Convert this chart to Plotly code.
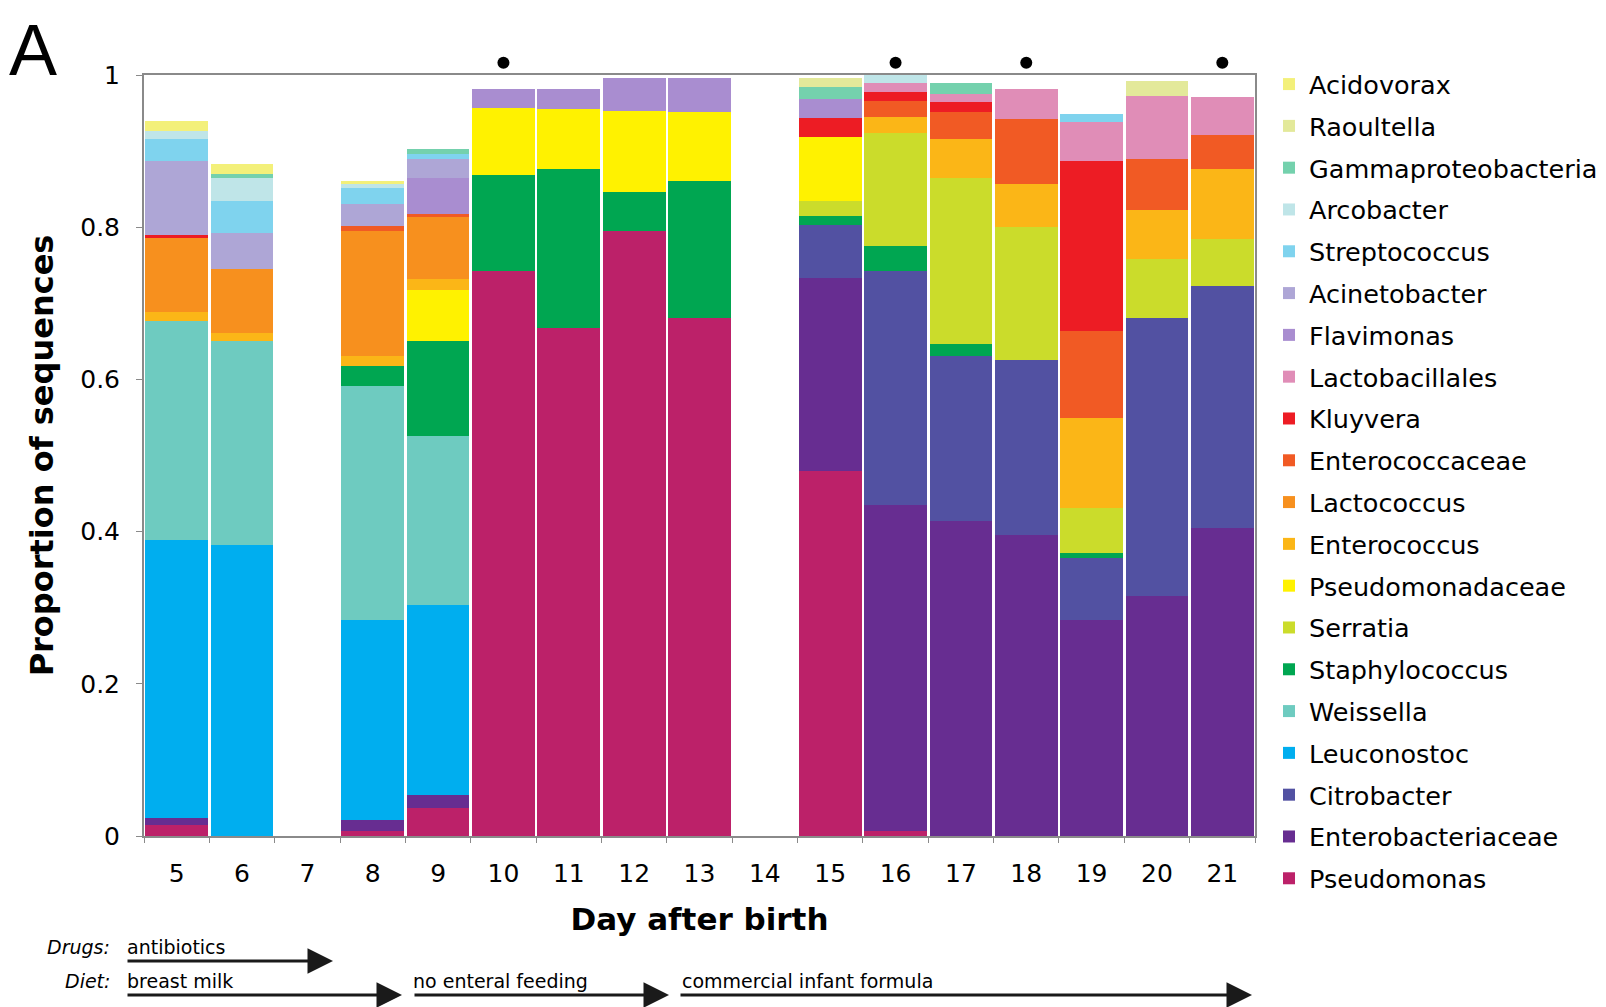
import plotly.graph_objects as go

# ---------------- data ----------------
days = ["5", "6", "7", "8", "9", "10", "11", "12", "13", "14", "15", "16", "17", "18", "19", "20", "21"]

# stacked from bottom to top
pseudomonas         = [0.015, 0, 0, 0.006, 0.037, 0.743, 0.668, 0.795, 0.681, 0, 0.479, 0.006, 0, 0, 0, 0, 0]
enterobacteriaceae  = [0.009, 0, 0, 0.015, 0.017, 0, 0, 0, 0, 0, 0.254, 0.429, 0.414, 0.396, 0.284, 0.315, 0.405]
citrobacter         = [0, 0, 0, 0, 0, 0, 0, 0, 0, 0, 0.070, 0.307, 0.217, 0.230, 0.081, 0.366, 0.318]
leuconostoc         = [0.365, 0.383, 0, 0.263, 0.250, 0, 0, 0, 0, 0, 0, 0, 0, 0, 0, 0, 0]
weissella           = [0.288, 0.267, 0, 0.307, 0.221, 0, 0, 0, 0, 0, 0, 0, 0, 0, 0, 0, 0]
staphylococcus      = [0, 0, 0, 0.027, 0.125, 0.125, 0.209, 0.051, 0.180, 0, 0.012, 0.033, 0.015, 0, 0.007, 0, 0]
serratia            = [0, 0, 0, 0, 0, 0, 0, 0, 0, 0, 0.019, 0.149, 0.219, 0.174, 0.059, 0.077, 0.061]
pseudomonadaceae    = [0, 0, 0, 0, 0.068, 0.089, 0.078, 0.107, 0.091, 0, 0.084, 0, 0, 0, 0, 0, 0]
enterococcus        = [0.011, 0.011, 0, 0.013, 0.014, 0, 0, 0, 0, 0, 0, 0.021, 0.051, 0.057, 0.118, 0.065, 0.093]
lactococcus         = [0.098, 0.084, 0, 0.164, 0.082, 0, 0, 0, 0, 0, 0, 0, 0, 0, 0, 0, 0]
enterococcaceae     = [0, 0, 0, 0.007, 0.003, 0, 0, 0, 0, 0, 0, 0.021, 0.035, 0.085, 0.114, 0.066, 0.044]
kluyvera            = [0.004, 0, 0, 0, 0, 0, 0, 0, 0, 0, 0.025, 0.012, 0.013, 0, 0.224, 0, 0]
lactobacillales     = [0, 0, 0, 0, 0, 0, 0, 0, 0, 0, 0, 0.012, 0.011, 0.040, 0.051, 0.083, 0.050]
flavimonas          = [0, 0, 0, 0, 0.048, 0.024, 0.027, 0.043, 0.044, 0, 0.025, 0, 0, 0, 0, 0, 0]
acinetobacter       = [0.097, 0.048, 0, 0.028, 0.024, 0, 0, 0, 0, 0, 0, 0, 0, 0, 0, 0, 0]
streptococcus       = [0.029, 0.042, 0, 0.022, 0.007, 0, 0, 0, 0, 0, 0, 0, 0, 0, 0.011, 0, 0]
arcobacter          = [0.011, 0.030, 0, 0.005, 0, 0, 0, 0, 0, 0, 0, 0.010, 0, 0, 0, 0, 0]
gammaproteobacteria = [0, 0.005, 0, 0, 0.007, 0, 0, 0, 0, 0, 0.016, 0, 0.015, 0, 0, 0, 0]
raoultella          = [0, 0, 0, 0, 0, 0, 0, 0, 0, 0, 0.012, 0, 0, 0, 0, 0.020, 0]
acidovorax          = [0.013, 0.013, 0, 0.004, 0, 0, 0, 0, 0, 0, 0, 0, 0, 0, 0, 0, 0]

dot_days = ["10", "16", "18", "21"]

y_ticks = [0, 0.2, 0.4, 0.6, 0.8, 1]
y_ticktext = ["0", "0.2", "0.4", "0.6", "0.8", "1"]

# ---------------- styles ----------------
series = [
    ("Pseudomonas", pseudomonas, "#bc2169"),
    ("Enterobacteriaceae", enterobacteriaceae, "#672d91"),
    ("Citrobacter", citrobacter, "#5251a2"),
    ("Leuconostoc", leuconostoc, "#00aeef"),
    ("Weissella", weissella, "#6ecbc0"),
    ("Staphylococcus", staphylococcus, "#00a651"),
    ("Serratia", serratia, "#cbdc2b"),
    ("Pseudomonadaceae", pseudomonadaceae, "#fff200"),
    ("Enterococcus", enterococcus, "#fbb617"),
    ("Lactococcus", lactococcus, "#f7901e"),
    ("Enterococcaceae", enterococcaceae, "#f15a24"),
    ("Kluyvera", kluyvera, "#ed1c24"),
    ("Lactobacillales", lactobacillales, "#e08db7"),
    ("Flavimonas", flavimonas, "#a98dd0"),
    ("Acinetobacter", acinetobacter, "#aea6d6"),
    ("Streptococcus", streptococcus, "#7fd3ee"),
    ("Arcobacter", arcobacter, "#bfe5e8"),
    ("Gammaproteobacteria", gammaproteobacteria, "#74d1ad"),
    ("Raoultella", raoultella, "#e3e99a"),
    ("Acidovorax", acidovorax, "#f3f07a"),
]

W, H = 1606, 1007
OFF = 8                       # page body margin of the html page
# desired plot frame in page pixels
PAGE_L, PAGE_R, PAGE_T, PAGE_B = 144, 1255, 75, 836
L = PAGE_L - OFF
R = W - (PAGE_R - OFF)
B = H - (PAGE_B - OFF)
T = 40                        # extra room on top for the dots (second y axis)
PW = W - L - R
PH = H - T - B
MAIN_H = PAGE_B - PAGE_T
MAIN_TOP = MAIN_H / PH        # domain top of main y axis
Y2_TOP = PH / MAIN_H          # range top of dot axis in data units
FONT = "DejaVu Sans, Arial, sans-serif"
DOT_LEVEL = 1.016
LEG_FONT = 25.5
LEG_STEP = 41.8


def px(page_x):
    return (page_x - OFF - L) / PW


def py(page_y):
    return ((H - B) - (page_y - OFF)) / PH


fig = go.Figure()
n = len(series)
for i, (name, vals, col) in enumerate(series):
    fig.add_trace(go.Bar(
        x=days, y=vals, name=name, legendgroup=name, legendrank=n - i,
        marker=dict(color=col, line=dict(width=0)),
    ))

fig.add_trace(go.Scatter(
    x=dot_days, y=[DOT_LEVEL] * len(dot_days), mode="markers", yaxis="y2",
    marker=dict(color="black", size=12), showlegend=False, hoverinfo="skip",
))

small = dict(family=FONT, size=19, color="black")
annotations = [
    dict(text="A", x=px(33), y=(H - B) / PH, xref="paper", yref="paper", showarrow=False,
         font=dict(family="Liberation Sans, Arial", size=72, color="black"), xanchor="center", yanchor="top"),
    dict(text="<i>Drugs:</i>", x=px(112), y=py(947), xref="paper", yref="paper", showarrow=False,
         font=small, xanchor="right", yanchor="middle"),
    dict(text="antibiotics", x=px(125), y=py(947), xref="paper", yref="paper", showarrow=False,
         font=small, xanchor="left", yanchor="middle"),
    dict(text="<i>Diet:</i>", x=px(112), y=py(981), xref="paper", yref="paper", showarrow=False,
         font=small, xanchor="right", yanchor="middle"),
    dict(text="breast milk", x=px(125), y=py(981), xref="paper", yref="paper", showarrow=False,
         font=small, xanchor="left", yanchor="middle"),
    dict(text="no enteral feeding", x=px(411), y=py(981), xref="paper", yref="paper", showarrow=False,
         font=small, xanchor="left", yanchor="middle"),
    dict(text="commercial infant formula", x=px(680), y=py(981), xref="paper", yref="paper", showarrow=False,
         font=small, xanchor="left", yanchor="middle"),
]

arrows = [(126, 333, 961), (126, 402, 995), (413, 669, 995), (679, 1252, 995)]
for x0, x1, yy in arrows:
    annotations.append(dict(
        text="", x=px(x1), y=py(yy), xref="paper", yref="paper",
        showarrow=True, ax=-(x1 - x0), ay=0, axref="pixel", ayref="pixel",
        arrowhead=2, arrowsize=1.7, arrowwidth=3, arrowcolor="#1a1a1a", standoff=0,
    ))

fig.update_layout(
    width=W, height=H,
    margin=dict(l=L, r=R, t=T, b=B, autoexpand=False),
    barmode="stack", bargap=0.04,
    plot_bgcolor="rgba(0,0,0,0)", paper_bgcolor="white",
    font=dict(family=FONT, color="black"),
    showlegend=True,
    legend=dict(
        x=px(1269), y=py(61), xanchor="left", yanchor="top",
        traceorder="grouped", tracegroupgap=LEG_STEP - (LEG_FONT * 1.3 + 3), maxheight=960,
        font=dict(family=FONT, size=LEG_FONT, color="black"),
        bgcolor="rgba(0,0,0,0)",
    ),
    annotations=annotations,
    yaxis2=dict(domain=[0, 1], range=[0, Y2_TOP], anchor="x", visible=False,
                showgrid=False, zeroline=False, fixedrange=True),
)

fig.update_xaxes(
    type="category", categoryorder="array", categoryarray=days,
    range=[-0.5, len(days) - 0.5], autorange=False,
    showline=True, linecolor="#8a8a8a", linewidth=2, mirror=True,
    ticks="outside", tickson="boundaries", ticklen=5, tickcolor="#8a8a8a",
    tickfont=dict(family=FONT, size=25, color="black"), ticklabelstandoff=14,
    title=dict(text="<b>Day after birth</b>", font=dict(family=FONT, size=31, color="black"), standoff=21),
    showgrid=False,
)
fig.update_layout(yaxis=dict(
    domain=[0, MAIN_TOP],
    range=[0, 1], tickvals=y_ticks, ticktext=y_ticktext,
    showline=True, linecolor="#8a8a8a", linewidth=2, mirror=True,
    ticks="outside", ticklen=6, tickcolor="#8a8a8a",
    tickfont=dict(family=FONT, size=25, color="black"), ticklabelstandoff=11,
    title=dict(text="<b>Proportion of sequences</b>", font=dict(family=FONT, size=32, color="black"), standoff=17),
    showgrid=False, zeroline=False,
))

fig.write_html("out.html")
